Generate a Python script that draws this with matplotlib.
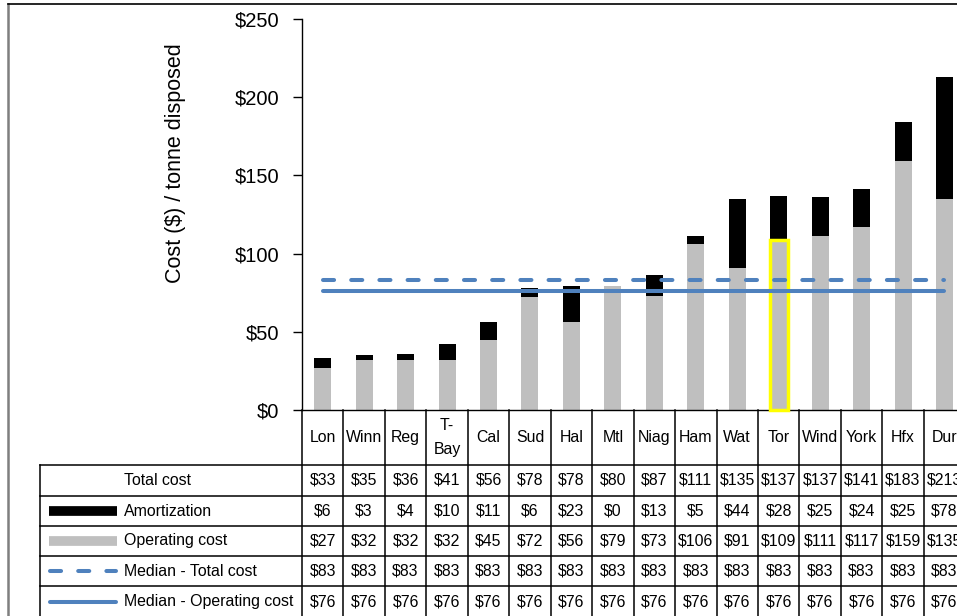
import matplotlib
matplotlib.use("Agg")
import matplotlib.pyplot as plt
from matplotlib.lines import Line2D

plt.rcParams["font.family"] = ["Liberation Sans", "DejaVu Sans"]

# ---- data ----
cities = ["Lon", "Winn", "Reg", "T-\nBay", "Cal", "Sud", "Hal", "Mtl", "Niag",
          "Ham", "Wat", "Tor", "Wind", "York", "Hfx", "Dur"]
total_cost = [33, 35, 36, 41, 56, 78, 78, 80, 87, 111, 135, 137, 137, 141, 183, 213]
amortization = [6, 3, 4, 10, 11, 6, 23, 0, 13, 5, 44, 28, 25, 24, 25, 78]
operating_cost = [27, 32, 32, 32, 45, 72, 56, 79, 73, 106, 91, 109, 111, 117, 159, 135]
median_total = [83] * 16
median_operating = [76] * 16
highlight_city = "Tor"
y_ticks = [0, 50, 100, 150, 200, 250]

row_labels = ["Total cost", "Amortization", "Operating cost",
              "Median - Total cost", "Median - Operating cost"]
row_values = [total_cost, amortization, operating_cost, median_total, median_operating]

GRAY = "#BFBFBF"
BLUE = "#4F81BD"

W, H = 957, 616
fig = plt.figure(figsize=(W / 100, H / 100), dpi=100)

# plot area geometry (pixels)
cat_w = 41.45
n = len(cities)
ax_left, ax_top, ax_bottom = 302, 19, 410
ax_right = ax_left + n * cat_w

ax = fig.add_axes([ax_left / W, 1 - ax_bottom / H, (ax_right - ax_left) / W,
                   (ax_bottom - ax_top) / H])
x = list(range(n))
bar_w = 0.41
ax.bar(x, operating_cost, width=bar_w, color=GRAY, zorder=2)
ax.bar(x, amortization, width=bar_w, bottom=operating_cost, color="black", zorder=2)

hi = cities.index(highlight_city)
ax.bar([hi], [operating_cost[hi]], width=0.435, fill=False, edgecolor="#FFFF00",
       linewidth=2.5, zorder=3, clip_on=False)

ax.plot(x, median_total, color=BLUE, lw=2.9, linestyle=(0, (2.75, 4.25)),
        dash_capstyle="round", solid_capstyle="round", zorder=4)
ax.plot(x, median_operating, color=BLUE, lw=2.9, solid_capstyle="round", zorder=4)

ax.set_xlim(-0.5, n - 0.5)
ax.set_ylim(0, 250)
ax.set_yticks(y_ticks)
ax.set_yticklabels([f"${v}" for v in y_ticks], fontsize=14.5)
ax.tick_params(axis="y", direction="out", length=6.5, width=1, pad=10)
ax.set_xticks([])
for s in ["top", "right"]:
    ax.spines[s].set_visible(False)
ax.spines["left"].set_linewidth(1)
ax.spines["bottom"].set_linewidth(1)

fig.text(176 / W, 1 - 163 / H, "Cost ($) / tonne disposed", rotation=90,
         ha="center", va="center", fontsize=15.5)

# ---- data table below the plot ----
tab_left_px, tab_bottom_px = 40, 617
tab = fig.add_axes([tab_left_px / W, 1 - tab_bottom_px / H,
                    (ax_right - tab_left_px) / W, (tab_bottom_px - ax_bottom) / H])
x0 = -0.5 - (ax_left - tab_left_px) / cat_w
tab.set_xlim(x0, n - 0.5)
tab.set_ylim(tab_bottom_px - ax_bottom, 0)
tab.axis("off")

row_edges = [0, 55, 86, 116, 146, 176, 207]
lkw = dict(color="black", lw=1.1, clip_on=False)
for k in range(n + 1):
    tab.plot([-0.5 + k, -0.5 + k], [0, row_edges[-1]], **lkw)
tab.plot([x0, x0], [row_edges[1], row_edges[-1]], **lkw)
for yv in row_edges[1:]:
    tab.plot([x0, n - 0.5], [yv, yv], **lkw)

fs = 11.4
hdr_mid = (row_edges[0] + row_edges[1]) / 2
for i, c in enumerate(cities):
    tab.text(i, hdr_mid, c, ha="center", va="center", fontsize=fs,
             linespacing=1.75, clip_on=False)

key_x0 = -0.5 + (49 - ax_left) / cat_w
key_x1 = -0.5 + (117 - ax_left) / cat_w
label_x = -0.5 + (124 - ax_left) / cat_w
for r, (lab, vals) in enumerate(zip(row_labels, row_values)):
    ym = (row_edges[r + 1] + row_edges[r + 2]) / 2
    tab.text(label_x, ym, lab, ha="left", va="center", fontsize=fs)
    for i, v in enumerate(vals):
        tab.text(i, ym, f"${v}", ha="center", va="center", fontsize=fs, clip_on=False)
    if lab == "Amortization":
        tab.plot([key_x0, key_x1], [ym, ym], color="black", lw=7, solid_capstyle="butt")
    elif lab == "Operating cost":
        tab.plot([key_x0, key_x1], [ym, ym], color=GRAY, lw=7, solid_capstyle="butt")
    elif lab == "Median - Total cost":
        tab.plot([key_x0 + 0.03, key_x1 - 0.03], [ym, ym], color=BLUE, lw=2.9,
                 linestyle=(0, (2.75, 4.25)), dash_capstyle="round")
    elif lab == "Median - Operating cost":
        tab.plot([key_x0 + 0.03, key_x1 - 0.03], [ym, ym], color=BLUE, lw=2.9,
                 solid_capstyle="round")

# chart area border
fig.add_artist(Line2D([8 / W, 8 / W], [0, 1 - 4 / H], color="#7F7F7F", lw=1.8))
fig.add_artist(Line2D([8 / W, 1], [1 - 4 / H, 1 - 4 / H], color="black", lw=1.2))

fig.savefig("out.png", dpi=100)
